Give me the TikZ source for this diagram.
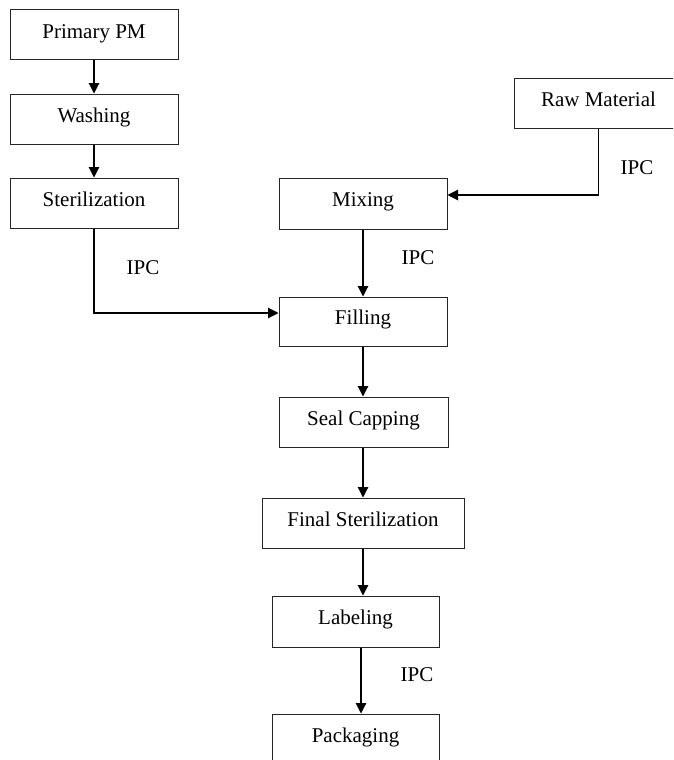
\documentclass[tikz,border=0pt]{standalone}
\usepackage{fontspec}
\setmainfont{Liberation Serif}
\usetikzlibrary{arrows.meta}
\begin{document}
\begin{tikzpicture}[x=1pt,y=-1pt,
  stepbox/.style={draw=black!85,line width=1pt,minimum width=168pt,minimum height=50pt,
    inner sep=0pt,font=\fontsize{21}{24}\selectfont,text height=15pt,text depth=9pt},
  ipc/.style={font=\fontsize{21}{24}\selectfont,inner sep=0pt},
  arr/.style={line width=1.1pt,-{Triangle[length=10.5pt,width=10.5pt]}},
  plain/.style={line width=1.1pt,draw=black!85}]
\useasboundingbox (0,0) rectangle (673,760);
\clip (0,0) rectangle (673,760);
\fill[white] (0,0) rectangle (673,760);

% process steps
\node[stepbox] (prim) at (94,35) {Primary PM};
\node[stepbox] (wash) at (94,119) {Washing};
\node[stepbox] (ster) at (94,203) {Sterilization};
\node[stepbox,minimum width=169pt] (raw) at (598.5,103) {Raw Material};
\node[stepbox,minimum height=51pt] (mix) at (363,203.5) {Mixing};
\node[stepbox,minimum height=49pt] (fill) at (363,321.5) {Filling};
\node[stepbox,minimum width=169pt] (seal) at (363.5,422) {Seal Capping};
\node[stepbox,minimum width=202pt] (fin) at (363,523) {Final Sterilization};
\node[stepbox,minimum width=167pt,minimum height=51pt] (lab) at (355.5,621.5) {Labeling};
\node[stepbox,minimum width=167pt] (pack) at (355.5,739) {Packaging};

% in-process control labels
\node[ipc] (ipc1) at (143,268) {IPC};
\node[ipc] (ipc2) at (418,258) {IPC};
\node[ipc] (ipc3) at (637,168) {IPC};
\node[ipc] (ipc4) at (417,675) {IPC};

% connectors
\draw[arr] (prim) -- (wash);
\draw[arr] (wash) -- (ster);
\draw[arr] (ster.south) |- ([yshift=8.5pt]fill.west);
\draw[arr] (raw.south) |- ([yshift=8.5pt]mix.east);
\draw[arr] (mix) -- (fill);
\draw[arr] (fill.south) -- (seal.north -| fill.south);
\draw[arr] (seal.south -| fill.south) -- (fin.north);
\draw[arr] (fin.south) -- (lab.north -| fin.south);
\coordinate (lp) at (361,0);
\draw[arr] (lab.south -| lp) -- (pack.north -| lp);
\end{tikzpicture}
\end{document}
